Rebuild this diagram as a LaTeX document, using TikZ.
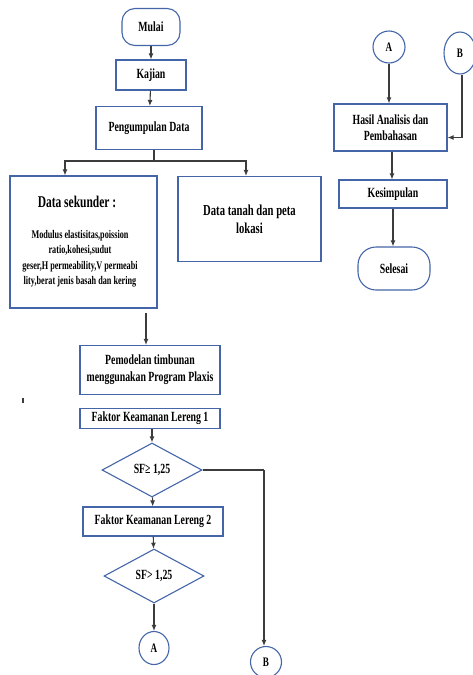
\documentclass[tikz,border=0pt]{standalone}
\usepackage{fontspec}
\setmainfont{Liberation Serif}[FakeStretch=0.7]
\usetikzlibrary{arrows.meta,shapes.geometric}

\definecolor{boxblue}{RGB}{68,102,168}
\definecolor{linegray}{RGB}{60,60,60}

\tikzset{
    box/.style={draw=boxblue, line width=1.1pt, fill=white, inner sep=2pt,
        font=\bfseries\fontsize{14}{16}\selectfont, align=center},
    term/.style={box, rounded corners=13pt},
    decision/.style={draw=boxblue, line width=1.1pt, diamond, aspect=1.85,
        inner sep=0pt, font=\bfseries\fontsize{14}{16}\selectfont},
    conn/.style={draw=boxblue, line width=1.1pt, ellipse, inner sep=0pt,
        font=\bfseries\fontsize{13}{15}\selectfont},
    line/.style={draw=linegray, line width=1.1pt},
    arr/.style={line, -{Latex[length=6pt,width=5pt]}},
    smalltext/.style={font=\bfseries\fontsize{11.7}{15.5}\selectfont, align=center, inner sep=0pt},
}

\begin{document}
\begin{tikzpicture}[x=1pt, y=-1pt]
    \useasboundingbox (0,0) rectangle (473,675);

    % left column
    \node[term, minimum width=58pt, minimum height=37pt] (mulai) at (151,27) {Mulai};
    \node[box, minimum width=70pt, minimum height=30pt] (kajian) at (151,75) {Kajian};
    \node[box, minimum width=106pt, minimum height=43pt] (kumpul) at (149,128) {Pengumpulan Data};

    \node[box, minimum width=147pt, minimum height=132pt] (sekunder) at (83.5,242) {};
    \node[box, draw=none, font=\bfseries\fontsize{16.4}{18}\selectfont] (sekundertitle) at (77,202) {Data sekunder :};
    \node[smalltext] (sekundertext) at (80,258.5) {Modulus elastisitas,poission\\
        ratio,kohesi,sudut\\
        geser,H permeability,V permeabi\\
        lity,berat jenis basah dan kering};
    \node[box, minimum width=143pt, minimum height=85pt,
        font=\bfseries\fontsize{15.2}{18}\selectfont] (tanah) at (249.5,219)
        {Data tanah dan peta\\lokasi};

    \node[box, minimum width=140pt, minimum height=49pt,
        font=\bfseries\fontsize{14}{17}\selectfont] (model) at (150,370)
        {Pemodelan timbunan\\menggunakan Program Plaxis};
    \node[box, minimum width=140pt, minimum height=20pt, inner sep=0pt] (fk1) at (150,418.5)
        {Faktor Keamanan Lereng 1};
    \node[decision, minimum width=100pt, minimum height=54pt] (sf1) at (152,470) {SF≥ 1,25};
    \node[box, minimum width=140pt, minimum height=29pt] (fk2) at (153,521.5)
        {Faktor Keamanan Lereng 2};
    \node[decision, minimum width=100pt, minimum height=54pt] (sf2) at (154,576) {SF> 1,25};
    \node[conn, minimum width=30pt, minimum height=33pt] (a1) at (154,648) {A};
    \node[conn, minimum width=31pt, minimum height=31pt] (b1) at (266,662) {B};

    % right column
    \node[conn, minimum width=32pt, minimum height=32pt] (a2) at (389,47) {A};
    \node[conn, minimum width=32pt, minimum height=42pt] (b2) at (460,53) {B};
    \node[box, minimum width=113pt, minimum height=47pt,
        font=\bfseries\fontsize{14}{16}\selectfont] (hasil) at (390.5,127.5)
        {Hasil Analisis dan\\Pembahasan};
    \node[box, minimum width=108pt, minimum height=28pt] (kesimpulan) at (393,194) {Kesimpulan};
    \node[term, minimum width=72pt, minimum height=43pt, rounded corners=18pt] (selesai) at (394,268.5) {Selesai};

    % connectors
    \draw[arr] (mulai) -- (kajian);
    \draw[arr] (kajian) -- (kumpul);
    \coordinate (split) at ([xshift=5pt]kumpul.south |- 0,161);
    \draw[line] ([xshift=5pt]kumpul.south) -- (split);
    \draw[arr] (split) -| ([xshift=-18.5pt]sekunder.north);
    \draw[arr] (split) -| ([xshift=-3.5pt]tanah.north);
    \draw[arr] ([xshift=62.5pt,yshift=-4pt]sekunder.south) -- ([xshift=-4pt]model.north);
    \draw[arr] ([xshift=2pt]fk1.south) -- (sf1.north);
    \draw[arr] (sf1) -- (fk2);
    \draw[line] (sf1.east) -- (264,470) coordinate (turn);
    \draw[arr] (turn) -- (turn |- b1.north);
    \draw[arr] (fk2) -- (sf2);
    \draw[arr] (sf2) -- (a1);

    \draw[arr] (a2) -- (a2 |- hasil.north);
    \draw[arr] ([xshift=2pt]b2.south) |- ([yshift=-10pt]hasil.east);
    \draw[arr] ([xshift=1.5pt]hasil.south) -- ([xshift=-1pt]kesimpulan.north);
    \draw[arr] (kesimpulan) -- (kesimpulan |- selesai.north);

    % stray mark
    \draw[line width=1.8pt, linegray] (23,397.5) -- (23,403);
\end{tikzpicture}
\end{document}
